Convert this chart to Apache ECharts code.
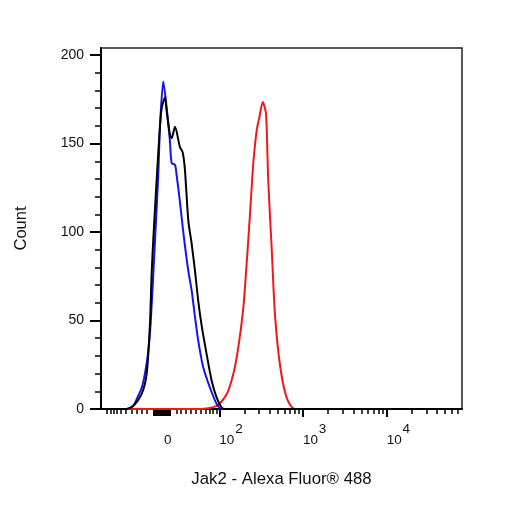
<!DOCTYPE html>
<html>
<head>
<meta charset="utf-8">
<script src="https://cdn.jsdelivr.net/npm/echarts@6/dist/echarts.min.js"></script>
<style>html,body{margin:0;padding:0;background:#fff;}#c{width:506px;height:506px;}</style>
</head>
<body>
<div id="c"></div>
<script>
// x is in display (decade) units: 2 = 10^2, 3 = 10^3, 4 = 10^4
const xMin = 0.587, xMax = 4.9;
const yMin = 0, yMax = 204;

const blueX = [0.587, 0.894, 0.973, 1.013, 1.073, 1.112, 1.150, 1.180, 1.232, 1.271, 1.292, 1.331, 1.372, 1.411, 1.431, 1.471, 1.491, 1.530, 1.570, 1.630, 1.670, 1.710, 1.749, 1.809, 1.889, 1.969, 2.029, 4.9];
const blueY = [0, 0, 2, 5.5, 12, 20, 32, 48, 95, 132, 160, 185, 170, 151, 139, 138, 132, 117, 100, 78, 67, 52, 38.5, 23.4, 12, 2.8, 0, 0];

const blackX = [0.587, 0.894, 0.973, 1.073, 1.133, 1.172, 1.192, 1.211, 1.250, 1.292, 1.312, 1.351, 1.372, 1.411, 1.431, 1.471, 1.530, 1.563, 1.590, 1.630, 1.670, 1.710, 1.749, 1.790, 1.849, 1.909, 1.969, 2.029, 2.068, 4.9];
const blackY = [0, 0, 1.7, 8.5, 20, 48, 76.5, 95, 128, 160, 170, 176, 168, 155, 153, 159.5, 148, 145, 135, 106.5, 93.5, 78, 61, 47, 31, 16, 6.4, 0.7, 0, 0];

const redX = [0.587, 1.769, 1.969, 2.088, 2.167, 2.227, 2.287, 2.327, 2.367, 2.406, 2.447, 2.480, 2.519, 2.558, 2.585, 2.626, 2.665, 2.725, 2.805, 2.904, 4.9];
const redY = [0, 0, 1.7, 8.3, 19.7, 34.7, 57, 82, 110, 138.6, 157.5, 165, 173.5, 167, 129, 91, 53.6, 25, 6.4, 0, 0];

const yTickVals = [0, 50, 100, 150, 200];
const yMinorVals = [10, 20, 30, 40, 60, 70, 80, 90, 110, 120, 130, 140, 160, 170, 180, 190];

const xLabelVals = [1.339, 2, 3, 4];
const xLabelText = ['0', '10', '10', '10'];
const xExpVals = [2.19, 3.19, 4.19];
const xExpText = ['2', '3', '4'];
const xMajorTicks = [2, 3, 4];
const xZeroTicks = [1.220, 1.244, 1.268, 1.292, 1.315, 1.339, 1.363, 1.387, 1.411];
const xMinorTicks = [0.655, 0.703, 0.742, 0.778, 0.826, 0.882, 0.953, 1.013, 1.073, 1.133,
  1.491, 1.542, 1.599, 1.662, 1.718, 1.781, 1.838, 1.889, 1.925, 1.969,
  2.301, 2.477, 2.602, 2.699, 2.778, 2.845, 2.903, 2.954,
  3.301, 3.477, 3.602, 3.699, 3.778, 3.845, 3.903, 3.954,
  4.301, 4.477, 4.602, 4.699, 4.778, 4.845];

const xTitle = 'Jak2 - Alexa Fluor® 488';
const yTitle = 'Count';

const FONT = 'Liberation Sans, Arial, sans-serif';
const pairs = (xs, ys) => xs.map((x, i) => [x, ys[i]]);
const lookup = (vals, texts) => v => {
  const i = vals.findIndex(a => Math.abs(a - v) < 1e-6);
  return i < 0 ? '' : texts[i];
};

function tickAxis(vals, len, width) {
  return {
    type: 'value', min: xMin, max: xMax, position: 'bottom',
    axisLine: { show: false },
    axisTick: { show: true, customValues: vals, length: len, lineStyle: { color: '#000', width: width } },
    axisLabel: { show: false }, splitLine: { show: false }
  };
}

const chart = echarts.init(document.getElementById('c'), null, { renderer: 'canvas' });
chart.setOption({
  animation: false,
  backgroundColor: '#fff',
  grid: { left: 101, top: 48, right: 44, bottom: 97, show: true, borderColor: '#222', borderWidth: 1.5, backgroundColor: 'transparent' },
  xAxis: [
    {
      type: 'value', min: xMin, max: xMax, position: 'bottom',
      name: xTitle, nameLocation: 'middle', nameGap: 62,
      nameTextStyle: { fontFamily: FONT, fontSize: 16.8, color: '#111' },
      axisLine: { show: true, lineStyle: { color: '#000', width: 2 } },
      axisTick: { show: true, customValues: xMajorTicks, length: 8, lineStyle: { color: '#000', width: 2 } },
      axisLabel: {
        show: true, customValues: xLabelVals, margin: 24, align: 'left',
        fontFamily: FONT, fontSize: 13.5, color: '#111',
        formatter: lookup(xLabelVals, xLabelText)
      },
      splitLine: { show: false }
    },
    tickAxis(xMinorTicks, 5, 1.5),
    tickAxis(xZeroTicks, 7, 2),
    {
      type: 'value', min: xMin, max: xMax, position: 'bottom',
      axisLine: { show: false }, axisTick: { show: false },
      axisLabel: {
        show: true, customValues: xExpVals, margin: 13, align: 'left',
        fontFamily: FONT, fontSize: 13.5, color: '#111',
        formatter: lookup(xExpVals, xExpText)
      },
      splitLine: { show: false }
    }
  ],
  yAxis: [
    {
      type: 'value', min: yMin, max: yMax, position: 'left',
      name: yTitle, nameLocation: 'middle', nameGap: 71, nameRotate: 90,
      nameTextStyle: { fontFamily: FONT, fontSize: 16.5, color: '#111' },
      axisLine: { show: true, lineStyle: { color: '#000', width: 2 } },
      axisTick: { show: true, customValues: yTickVals, length: 11, lineStyle: { color: '#000', width: 2 } },
      axisLabel: { show: true, customValues: yTickVals, margin: 17, fontFamily: FONT, fontSize: 14, color: '#111' },
      splitLine: { show: false }
    },
    {
      type: 'value', min: yMin, max: yMax, position: 'left',
      axisLine: { show: false },
      axisTick: { show: true, customValues: yMinorVals, length: 6, lineStyle: { color: '#000', width: 1.5 } },
      axisLabel: { show: false }, splitLine: { show: false }
    }
  ],
  series: [
    { type: 'line', name: 'red', data: pairs(redX, redY), smooth: 0.25, showSymbol: false, lineStyle: { color: '#f01818', width: 2 }, itemStyle: { color: '#f01818' } },
    { type: 'line', name: 'blue', data: pairs(blueX, blueY), smooth: 0.25, showSymbol: false, lineStyle: { color: '#1414ee', width: 2 }, itemStyle: { color: '#1414ee' } },
    { type: 'line', name: 'black', data: pairs(blackX, blackY), smooth: 0.25, showSymbol: false, lineStyle: { color: '#000', width: 2 }, itemStyle: { color: '#000' } }
  ]
});
</script>
</body>
</html>
